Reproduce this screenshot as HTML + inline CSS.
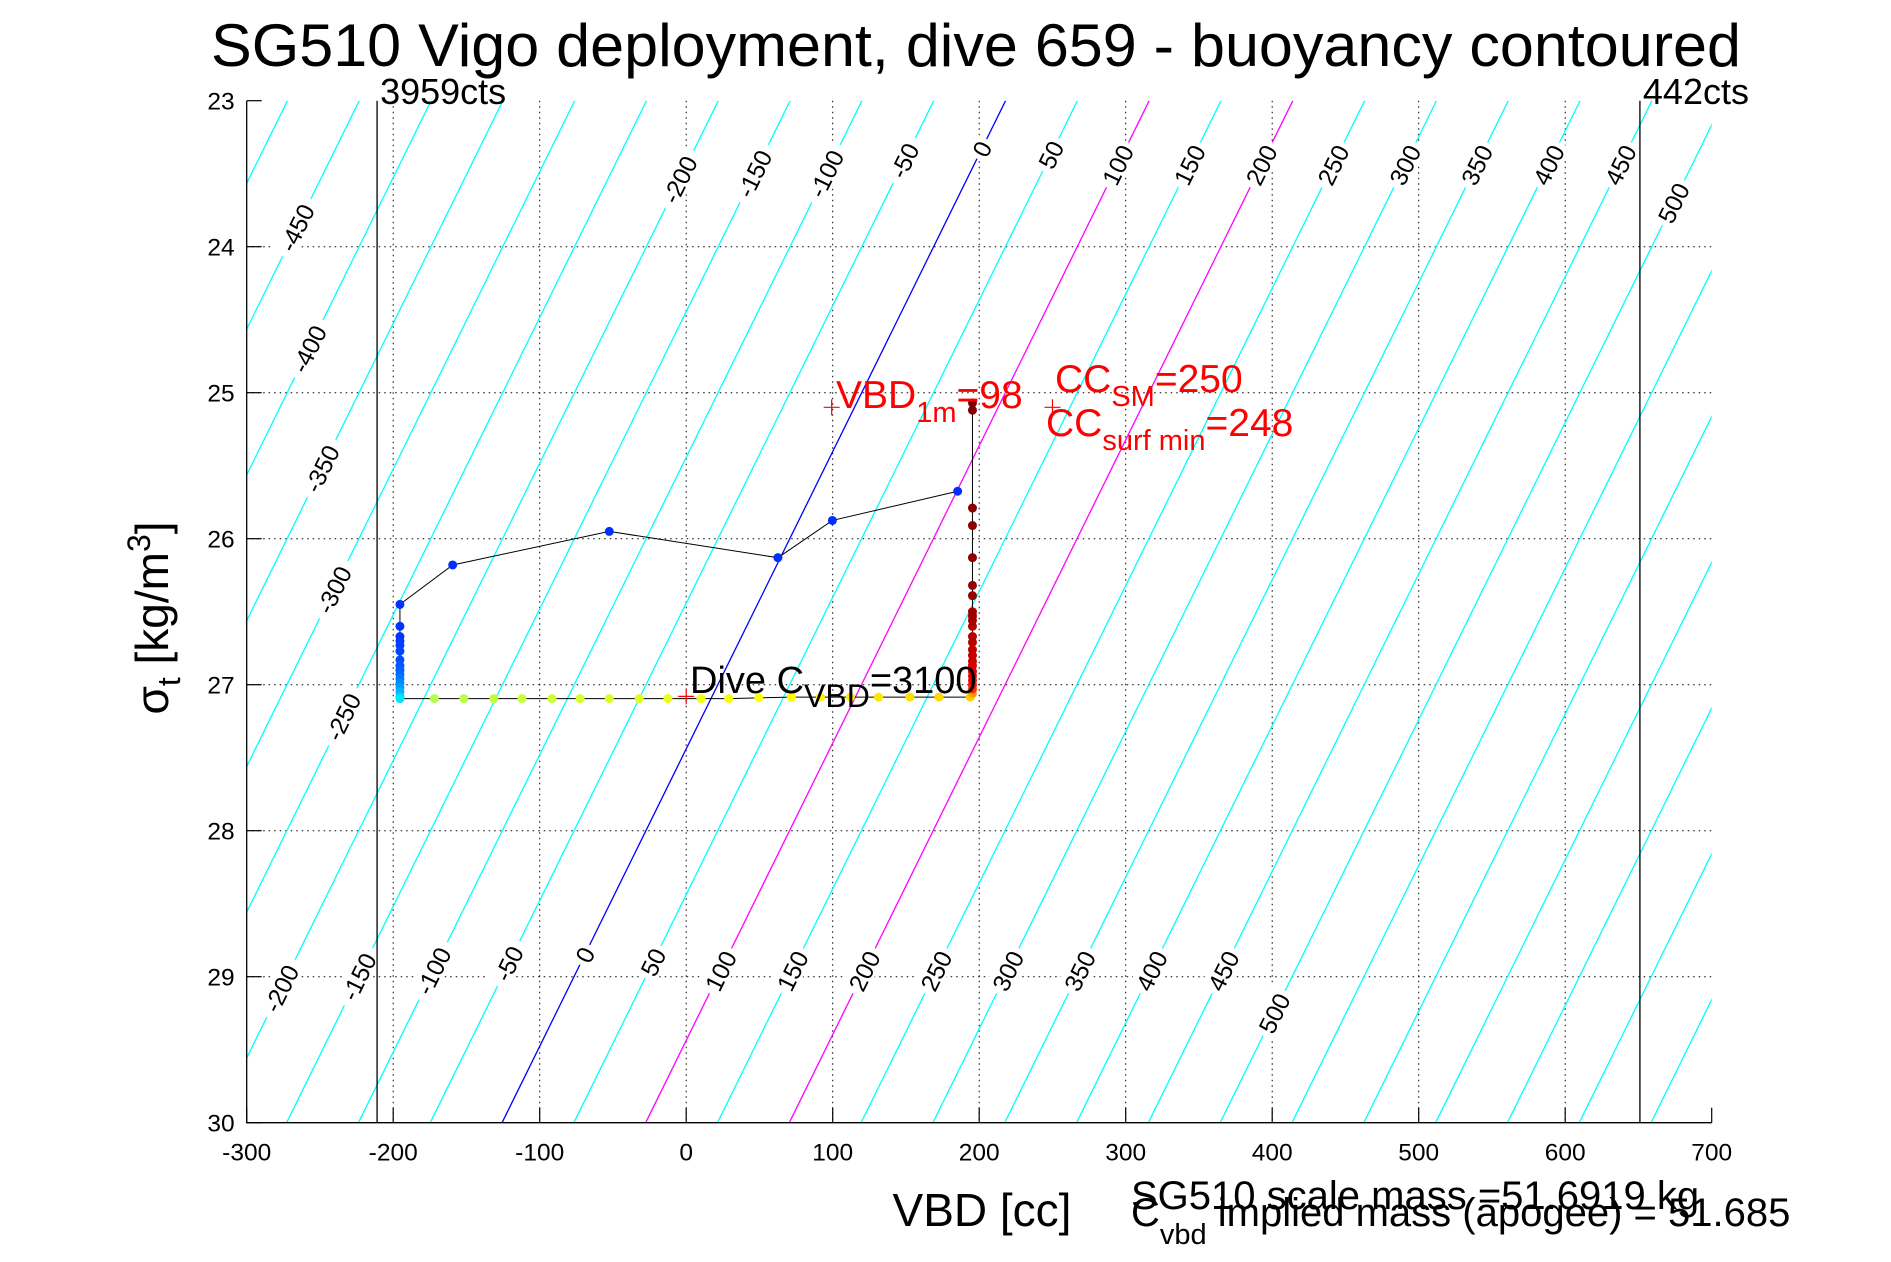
<!DOCTYPE html>
<html><head><meta charset="utf-8">
<style>
html,body{margin:0;padding:0;background:#fff;}
svg{display:block;font-family:"Liberation Sans",sans-serif;}
</style></head>
<body>
<svg id="chart" width="1891" height="1262" viewBox="0 0 1891 1262" xmlns="http://www.w3.org/2000/svg">
<rect width="1891" height="1262" fill="#fff"/>
<defs><clipPath id="pc"><rect x="246.7" y="100.7" width="1465" height="1022"/></clipPath></defs>
<g id="grid"></g>
<g id="contours" clip-path="url(#pc)"></g>
<g id="clabels"></g>
<g id="series"></g>
<g id="axes"></g>
<text x="976" y="66" font-size="60" text-anchor="middle" textLength="1530" lengthAdjust="spacingAndGlyphs">SG510 Vigo deployment, dive 659 - buoyancy contoured</text>
<text x="982" y="1226" font-size="46" text-anchor="middle">VBD [cc]</text>
<text transform="translate(168,618) rotate(-90)" font-size="46" text-anchor="middle">σ<tspan font-size="32" dy="12">t</tspan><tspan dy="-12"> [kg/m</tspan><tspan font-size="32" dy="-18">3</tspan><tspan dy="18">]</tspan></text>
<text x="1131" y="1209" font-size="40">SG510 scale mass =51.6919 kg</text>
<text x="1131" y="1226" font-size="40">C<tspan font-size="29" dy="18">vbd</tspan><tspan dy="-18"> implied mass (apogee) = 51.685</tspan></text>
<text x="690" y="693" font-size="38">Dive C<tspan font-size="32" dy="14">VBD</tspan><tspan dy="-14">=3100</tspan></text>
<text x="836" y="408" font-size="39" fill="#f00">VBD<tspan font-size="29" dy="14">1m</tspan><tspan dy="-14">=98</tspan></text>
<text x="1055" y="392" font-size="39" fill="#f00">CC<tspan font-size="29" dy="14">SM</tspan><tspan dy="-14">=250</tspan></text>
<text x="1046" y="436" font-size="39" fill="#f00">CC<tspan font-size="29" dy="14">surf min</tspan><tspan dy="-14">=248</tspan></text>
</svg>
<script>
const xTicks=[-300,-200,-100,0,100,200,300,400,500,600,700];
const yTicks=[23,24,25,26,27,28,29,30];
const contourLevels=[];for(let b=-600;b<=900;b+=50)contourLevels.push(b);
const labelValues=[-200,-150,-100,-50,0,50,100,150,200,250,300,350,400,450,500,-450,-400,-350,-300,-250,-200,-150,-100,-50,0,50,100,150,200,250,300,350,400,450,500];
const labelSigmas=[23.54,23.5,23.5,23.41,23.33,23.37,23.44,23.44,23.44,23.44,23.44,23.44,23.44,23.44,23.7,23.87,24.7,25.52,26.35,27.22,29.08,29.0,28.96,28.91,28.85,28.9,28.96,28.96,28.96,28.96,28.96,28.96,28.96,28.96,29.25];
const cntsVbd=[-211,651];
const cntsText=["3959cts","442cts"];
const diveVbd=[185.3,99.8,62.6,-52.5,-159.4,-195.4,-195.4,-195.4,-195.4,-195.4,-195.4,-195.4,-195.4,-195.4,-195.4,-195.4,-195.4,-195.4,-195.4,-195.4,-195.4,
-171.9,-151.8,-131.3,-112.1,-91.6,-72.4,-52.5,-32.1,-12.5,10.1,29.0,49.5,71.8,91.6,112.1,131.3,152.7,172.5,193.9,
195.4,195.4,195.4,195.4,195.4,195.4,195.4,195.4,195.4,195.4,195.4,195.4,195.4,195.4,195.4,195.4,195.4,195.4,195.4,195.4,195.4,195.4,195.4];
const diveSigma=[25.675,25.875,26.13,25.95,26.18,26.45,26.6,26.67,26.7,26.73,26.77,26.83,26.87,26.9,26.93,26.96,26.99,27.02,27.05,27.08,27.095,
27.095,27.095,27.095,27.095,27.095,27.095,27.095,27.095,27.095,27.095,27.095,27.09,27.085,27.085,27.085,27.085,27.085,27.085,27.085,
27.06,27.03,27.0,26.97,26.94,26.91,26.87,26.84,26.8,26.76,26.71,26.67,26.6,26.56,26.53,26.5,26.39,26.32,26.13,25.91,25.79,25.12,25.07];
const markVbd=[99.3,0,250];
const markSigma=[25.1,27.08,25.1];

const L=246.7,R=1711.7,T=100.7,B=1122.7;
const xs=v=>L+(v+300)*(R-L)/1000;
const ys=s=>T+(s-23)*(B-T)/7;
const vbdAt=(b,s)=>b/1.02+218-49.1*(s-23);
const NS='http://www.w3.org/2000/svg';
function mk(tag,parent,attrs){const e=document.createElementNS(NS,tag);for(const k in attrs)e.setAttribute(k,attrs[k]);parent.appendChild(e);return e;}
const grid=document.getElementById('grid'),axes=document.getElementById('axes'),cont=document.getElementById('contours'),cl=document.getElementById('clabels'),ser=document.getElementById('series');

xTicks.forEach(v=>{const x=xs(v);
 if(v>-300&&v<700){const g=mk('line',grid,{x1:x,x2:x,y1:T,y2:B,stroke:'#000','stroke-width':1,'stroke-dasharray':'1.5,4'});
 }
 const t=mk('line',axes,{x1:x,x2:x,y1:B,y2:B-15,stroke:'#000','stroke-width':1.2});
 
 const l=mk('text',axes,{x:x,y:B+38,'font-size':24.5,'text-anchor':'middle'});l.textContent=v;
 });
yTicks.forEach(s=>{const y=ys(s);
 if(s>23&&s<30){const g=mk('line',grid,{x1:L,x2:R,y1:y,y2:y,stroke:'#000','stroke-width':1,'stroke-dasharray':'1.5,4'});
 }
 const t=mk('line',axes,{x1:L,x2:L+15,y1:y,y2:y,stroke:'#000','stroke-width':1.2});
 
 const l=mk('text',axes,{x:L-12,y:y+9,'font-size':24.5,'text-anchor':'end'});l.textContent=s;
 });
const ax=mk('path',axes,{d:`M${L},${T}V${B}H${R}`,fill:'none',stroke:'#000','stroke-width':1.3});


contourLevels.forEach(b=>{const col=b===0?'#0000ff':(b===100||b===200)?'#ff00ff':'#00ffff';
 const ln=mk('line',cont,{x1:xs(vbdAt(b,23)),y1:ys(23),x2:xs(vbdAt(b,30)),y2:ys(30),stroke:col,'stroke-width':1.3});
 });

const ang=-Math.atan2(ys(1)-ys(0),(xs(0)-xs(-49.1)))*180/Math.PI;
labelValues.forEach((b,i)=>{const s=labelSigmas[i];const x=xs(vbdAt(b,s)),y=ys(s);
 const g=mk('g',cl,{transform:`translate(${x},${y}) rotate(${ang})`});
 
 const w=String(b).length*14+8;
 mk('rect',g,{x:-w/2,y:-14,width:w,height:26,fill:'#fff'});
 const t=mk('text',g,{x:0,y:9,'font-size':24.5,'text-anchor':'middle'});t.textContent=b;});

cntsVbd.forEach((v,i)=>{const x=xs(v);
 const ln=mk('line',ser,{x1:x,x2:x,y1:T,y2:B,stroke:'#000','stroke-width':1.3});
 
 const t=mk('text',ser,{x:x+3,y:104,'font-size':36});t.textContent=cntsText[i];
 });

const pl=mk('polyline',ser,{points:diveVbd.map((v,i)=>xs(v)+','+ys(diveSigma[i])).join(' '),fill:'none',stroke:'#000','stroke-width':1});

function jet(t){const c=v=>Math.round(255*Math.max(0,Math.min(1,v)));
 return `rgb(${c(1.5-Math.abs(4*t-3))},${c(1.5-Math.abs(4*t-2))},${c(1.5-Math.abs(4*t-1))})`;}
const n=diveVbd.length;
function colorT(i){
 if(i<=20) return 0.17+0.18*Math.pow(i/20,3);
 if(i<=39) return 0.55+0.12*(i-21)/18;
 const k=(i-40)/(n-1-40); return 0.72+0.28*Math.pow(k,0.3);
}
diveVbd.forEach((v,i)=>{
 const c=mk('circle',ser,{cx:xs(v),cy:ys(diveSigma[i]),r:4.5,fill:jet(colorT(i))});
 });
markVbd.forEach((v,i)=>{const x=xs(v),y=ys(markSigma[i]);
 const p=mk('path',ser,{d:`M${x-8},${y}H${x+8}M${x},${y-8}V${y+8}`,stroke:'#f00','stroke-width':1.2});
 });
</script>
</body></html>
